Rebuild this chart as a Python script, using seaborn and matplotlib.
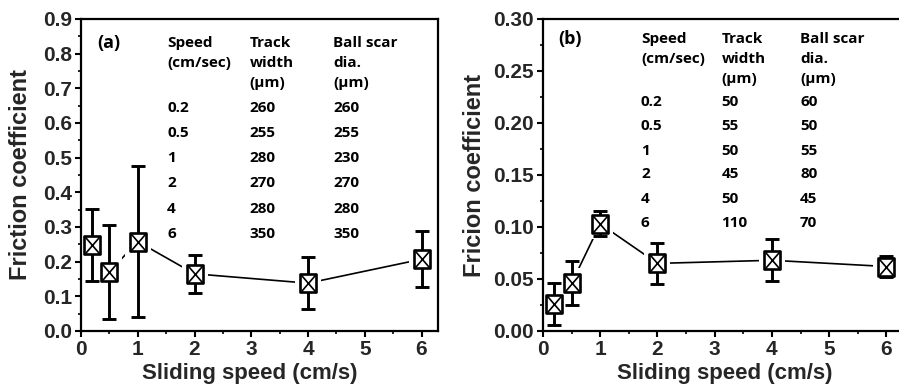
import numpy as np
import pandas as pd
import matplotlib
matplotlib.use("Agg")
import matplotlib.pyplot as plt
from matplotlib.path import Path
from matplotlib.ticker import MultipleLocator, FormatStrFormatter
import seaborn as sns

# ---- data -------------------------------------------------------------
speed = [0.2, 0.5, 1, 2, 4, 6]

mu_a = [0.248, 0.171, 0.258, 0.165, 0.138, 0.207]
err_a = [0.104, 0.135, 0.217, 0.055, 0.075, 0.081]

mu_b = [0.026, 0.046, 0.103, 0.065, 0.068, 0.062]
err_b = [0.020, 0.021, 0.012, 0.020, 0.020, 0.010]

table_speed = ["0.2", "0.5", "1", "2", "4", "6"]
track_a = ["260", "255", "280", "270", "280", "350"]
scar_a = ["260", "255", "230", "270", "280", "350"]
track_b = ["50", "55", "50", "45", "50", "110"]
scar_b = ["60", "50", "55", "80", "45", "70"]

header_lines = [
    ("Speed", "Track", "Ball scar"),
    ("(cm/sec)", "width", "dia."),
    ("", "(\u00b5m)", "(\u00b5m)"),
]

# ---- style ------------------------------------------------------------
sns.set_theme(style="ticks")
plt.rcParams["font.family"] = ["Liberation Sans", "DejaVu Sans"]
plt.rcParams["font.weight"] = "bold"
plt.rcParams["axes.labelweight"] = "bold"

TABLE_FAMILY = ["Open Sans", "DejaVu Sans"]
TABLE_FONT = dict(family=TABLE_FAMILY, weight="bold", size=11, color="black")

# open square with a cross, slightly taller than wide
hw = 0.43
box_marker = Path([(-hw, -0.5), (hw, -0.5), (hw, 0.5), (-hw, 0.5), (-hw, -0.5)],
                  [Path.MOVETO, Path.LINETO, Path.LINETO, Path.LINETO, Path.CLOSEPOLY])
cross_marker = Path([(-hw, -0.5), (hw, 0.5), (-hw, 0.5), (hw, -0.5)],
                    [Path.MOVETO, Path.LINETO, Path.MOVETO, Path.LINETO])

fig = plt.figure(figsize=(8.99, 3.89), dpi=100)
W, H = 899, 389
ax_a = fig.add_axes([81 / W, (H - 331) / H, 357 / W, 312 / H])
ax_b = fig.add_axes([543 / W, (H - 331) / H, 360 / W, 312 / H])


def draw_panel(ax, mu, err, ylim, ymajor, yminor, yfmt, ylabel, tag,
               track, scar, col_x, row_y, tag_x, ylabel_x, xlabel_x):
    df = pd.DataFrame({"speed": speed, "mu": mu})
    sns.lineplot(data=df, x="speed", y="mu", ax=ax, color="black",
                 linewidth=1.2, zorder=1)
    # white halo so the connecting line stops short of each symbol
    ax.plot(speed, mu, linestyle="none", marker=box_marker, markersize=21,
            markerfacecolor="white", markeredgewidth=0, zorder=2)
    _, caps, bars = ax.errorbar(speed, mu, yerr=err, fmt="none",
                                ecolor="black", elinewidth=2.1,
                                capsize=5.3, capthick=2.1, zorder=3)
    for c in caps:
        c.set_zorder(6)
    ax.plot(speed, mu, linestyle="none", marker=box_marker, markersize=13.5,
            markerfacecolor="white", markeredgecolor="black",
            markeredgewidth=1.9, zorder=4)
    ax.plot(speed, mu, linestyle="none", marker=cross_marker, markersize=13.5,
            markerfacecolor="none", markeredgecolor="black",
            markeredgewidth=1.2, zorder=5)

    ax.set_xlim(0, 6.29)
    ax.set_ylim(*ylim)
    ax.xaxis.set_major_locator(MultipleLocator(1))
    ax.xaxis.set_minor_locator(MultipleLocator(0.5))
    ax.yaxis.set_major_locator(MultipleLocator(ymajor))
    ax.yaxis.set_minor_locator(MultipleLocator(yminor))
    ax.yaxis.set_major_formatter(FormatStrFormatter(yfmt))
    ax.xaxis.set_major_formatter(FormatStrFormatter("%d"))

    for s in ax.spines.values():
        s.set_linewidth(1.6)
        s.set_color("black")
    ax.tick_params(which="major", direction="out", length=4.5, width=1.5,
                   labelsize=15, pad=2, color="black")
    ax.tick_params(which="minor", direction="out", length=2.5, width=1.2,
                   color="black")
    for lab in ax.get_xticklabels() + ax.get_yticklabels():
        lab.set_fontweight("bold")

    ax.set_xlabel("Sliding speed (cm/s)", fontsize=16, fontweight="bold")
    ax.set_ylabel(ylabel, fontsize=17, fontweight="bold")
    ax.xaxis.set_label_coords(xlabel_x, -0.103)
    ax.yaxis.set_label_coords(ylabel_x, 0.5)

    # inset table of wear data
    ax.text(tag_x, row_y[0], tag, transform=ax.transAxes, va="center",
            ha="left", family=TABLE_FAMILY, weight="bold", fontsize=13,
            color="black")
    for i, line in enumerate(header_lines):
        for x, t in zip(col_x, line):
            if t:
                ax.text(x, row_y[i], t, transform=ax.transAxes, va="center",
                        ha="left", **TABLE_FONT)
    for j, (s, tw, sd) in enumerate(zip(table_speed, track, scar)):
        y = row_y[3 + j]
        for x, t in zip(col_x, (s, tw, sd)):
            ax.text(x, y, t, transform=ax.transAxes, va="center", ha="left",
                    **TABLE_FONT)


draw_panel(ax_a, mu_a, err_a, (0, 0.9), 0.1, 0.05, "%.1f",
           "Friction coefficient", "(a)", track_a, scar_a,
           col_x=(0.241, 0.473, 0.706),
           row_y=(0.923, 0.859, 0.795, 0.715, 0.635, 0.554, 0.474, 0.391, 0.311),
           tag_x=0.045, ylabel_x=-0.137, xlabel_x=0.473)

draw_panel(ax_b, mu_b, err_b, (0, 0.30), 0.05, 0.025, "%.2f",
           "Fricion coefficient", "(b)", track_b, scar_b,
           col_x=(0.272, 0.496, 0.714),
           row_y=(0.936, 0.872, 0.808, 0.734, 0.657, 0.577, 0.503, 0.423, 0.346),
           tag_x=0.042, ylabel_x=-0.157, xlabel_x=0.504)

fig.savefig("out.png", dpi=100)
